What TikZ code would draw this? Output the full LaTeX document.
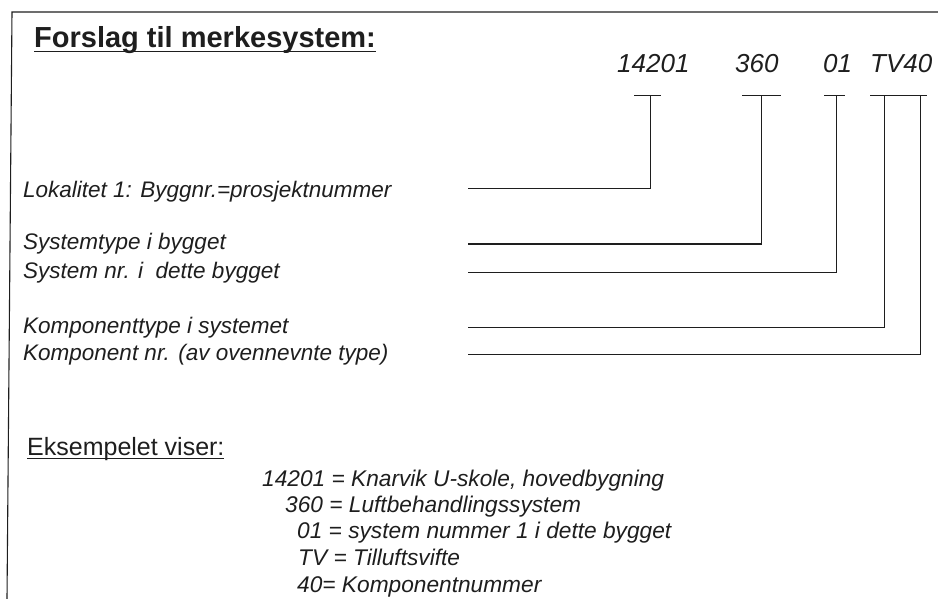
\documentclass[tikz,border=0pt]{standalone}
\usepackage{fontspec}
\setmainfont{Liberation Sans}

% underline just under the baseline: depth, thickness, text
\newcommand{\ulbox}[3]{\setbox0\hbox{#3}\rlap{\copy0}\rule[\dimexpr-#1-#2\relax]{\wd0}{#2}}

\begin{document}
\begin{tikzpicture}[x=1pt, y=-1pt]
	\definecolor{inkColour}{RGB}{30, 30, 30}
	\tikzstyle{frame}=[line width=1.1pt, color=inkColour]
	\tikzstyle{lead}=[line width=1pt, color=inkColour]
	\tikzstyle{heading}=[anchor=base west, inner sep=0pt, color=inkColour, font=\fontsize{29}{34}\selectfont\bfseries]
	\tikzstyle{subheading}=[anchor=base west, inner sep=0pt, color=inkColour, font=\fontsize{25}{30}\selectfont]
	\tikzstyle{code}=[anchor=base west, inner sep=0pt, color=inkColour, font=\fontsize{26}{30}\selectfont\itshape]
	\tikzstyle{label}=[anchor=base west, inner sep=0pt, color=inkColour, font=\fontsize{22.5}{26}\selectfont\itshape]
	\tikzstyle{example}=[anchor=base west, inner sep=0pt, color=inkColour, font=\fontsize{22.7}{26}\selectfont\itshape]

	\useasboundingbox (0,0) rectangle (938,599);

	% frame, open to the right and below
	\coordinate (frameTL) at (12,12);
	\coordinate (frameTR) at (938,12);
	\coordinate (frameBL) at (7,599);
	\draw[frame] (frameTR) -- (frameTL) -- (frameBL);

	\node [heading] (title) at (34,48) {\ulbox{3pt}{1.5pt}{Forslag til merkesystem:}};

	% the code and its parts
	\node [code] (c14201) at (617,73) {14201};
	\node [code] (c360) at (735,73) {360};
	\node [code] (c01) at (823,73) {01};
	\node [code] (cTV40) at (870,73) {TV40};

	\coordinate (b14201w) at (634,96);
	\coordinate (b14201e) at (661,96);
	\coordinate (b360w) at (742,96);
	\coordinate (b360e) at (781,96);
	\coordinate (b01w) at (824,96);
	\coordinate (b01e) at (845,96);
	\coordinate (bTV40w) at (870,96);
	\coordinate (bTV40e) at (927,96);

	\coordinate (s14201) at (650,96);
	\coordinate (s360) at (761,96);
	\coordinate (s01) at (836,96);
	\coordinate (sTV) at (884,96);
	\coordinate (s40) at (920,96);

	\path[lead]
	(b14201w) edge (b14201e)
	(b360w) edge (b360e)
	(b01w) edge (b01e)
	(bTV40w) edge (bTV40e);

	% what each part means
	\node [label] (lokalitet) at (23,197) {Lokalitet 1: Byggnr.=prosjektnummer};
	\node [label] (systemtype) at (23,250) {Systemtype i bygget};
	\node [label] (systemnr) at (23,278) {System nr. i\ \ dette bygget};
	\node [label] (komptype) at (23,333) {Komponenttype i systemet};
	\node [label] (kompnr) at (23,360) {Komponent nr. (av ovennevnte type)};

	\coordinate (l14201) at (468,189);
	\coordinate (l360) at (468,244);
	\coordinate (l01) at (468,272);
	\coordinate (lTV) at (468,327);
	\coordinate (l40) at (468,354);

	\draw[lead] (l14201) -| (s14201);
	\draw[lead] (l360) -| (s360);
	\draw[lead] (l01) -| (s01);
	\draw[lead] (lTV) -| (sTV);
	\draw[lead] (l40) -| (s40);

	% example
	\node [subheading] (eksempel) at (27,455) {\ulbox{3pt}{1.2pt}{Eksempelet viser:}};
	\node [example] (e14201) at (262,486) {14201 = Knarvik U-skole, hovedbygning};
	\node [example] (e360) at (285,512) {360 = Luftbehandlingssystem};
	\node [example] (e01) at (297,538) {01 = system nummer 1 i dette bygget};
	\node [example] (eTV) at (298,565) {TV = Tilluftsvifte};
	\node [example] (e40) at (297,592) {40= Komponentnummer};
\end{tikzpicture}
\end{document}
